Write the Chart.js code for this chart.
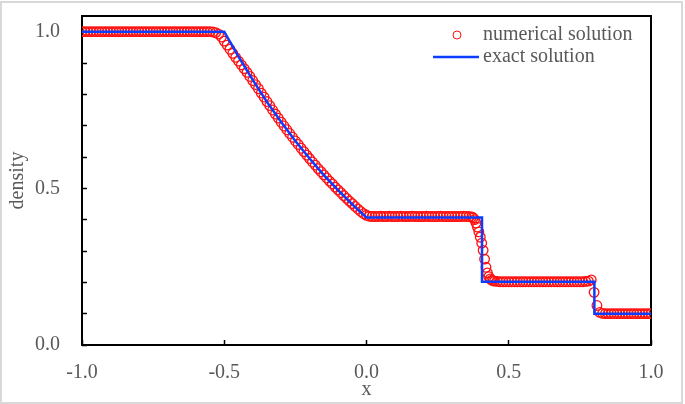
<!DOCTYPE html>
<html>
<head>
<meta charset="utf-8">
<script src="https://cdn.jsdelivr.net/npm/chart.js"></script>
<style>
  html, body { margin: 0; padding: 0; background: #fff; }
  #chart-wrapper { width: 685px; height: 404px; }
</style>
</head>
<body>
<div id="chart-wrapper">
    <canvas id="my-chart" width="685" height="404"></canvas>
</div>

<script>
// numerical solution (circles)
const numX = [
  -1.00,-0.99,-0.98,-0.97,-0.96,-0.95,-0.94,-0.93,-0.92,-0.91,
  -0.90,-0.89,-0.88,-0.87,-0.86,-0.85,-0.84,-0.83,-0.82,-0.81,
  -0.80,-0.79,-0.78,-0.77,-0.76,-0.75,-0.74,-0.73,-0.72,-0.71,
  -0.70,-0.69,-0.68,-0.67,-0.66,-0.65,-0.64,-0.63,-0.62,-0.61,
  -0.60,-0.59,-0.58,-0.57,-0.56,-0.55,-0.54,-0.53,-0.52,-0.51,
  -0.50,-0.49,-0.48,-0.47,-0.46,-0.45,-0.44,-0.43,-0.42,-0.41,
  -0.40,-0.39,-0.38,-0.37,-0.36,-0.35,-0.34,-0.33,-0.32,-0.31,
  -0.30,-0.29,-0.28,-0.27,-0.26,-0.25,-0.24,-0.23,-0.22,-0.21,
  -0.20,-0.19,-0.18,-0.17,-0.16,-0.15,-0.14,-0.13,-0.12,-0.11,
  -0.10,-0.09,-0.08,-0.07,-0.06,-0.05,-0.04,-0.03,-0.02,-0.01,
  0.00,0.01,0.02,0.03,0.04,0.05,0.06,0.07,0.08,0.09,
  0.10,0.11,0.12,0.13,0.14,0.15,0.16,0.17,0.18,0.19,
  0.20,0.21,0.22,0.23,0.24,0.25,0.26,0.27,0.28,0.29,
  0.30,0.31,0.32,0.33,0.34,0.35,0.36,0.37,
  0.375,0.38,0.385,0.39,0.395,0.40,0.405,0.41,
  0.415,0.42,0.425,0.43,0.435,0.44,0.445,0.45,
  0.46,0.47,0.48,0.49,0.50,0.51,0.52,0.53,0.54,0.55,
  0.56,0.57,0.58,0.59,0.60,0.61,0.62,0.63,0.64,0.65,
  0.66,0.67,0.68,0.69,0.70,0.71,0.72,0.73,0.74,0.75,
  0.76,0.77,0.78,0.79,0.80,0.81,0.82,0.83,0.84,0.85,
  0.86,0.87,0.88,0.89,0.90,0.91,0.92,0.93,0.94,0.95,
  0.96,0.97,0.98,0.99,1.00
];
const numY = [
  1.0,1.0,1.0,1.0,1.0,1.0,1.0,1.0,1.0,1.0,
  1.0,1.0,1.0,1.0,1.0,1.0,1.0,1.0,1.0,1.0,
  1.0,1.0,1.0,1.0,1.0,1.0,1.0,1.0,1.0,1.0,
  1.0,1.0,1.0,1.0,1.0,1.0,1.0,1.0,1.0,1.0,
  1.0,1.0,1.0,1.0,1.0,1.0,0.999,0.997,0.992,0.983,
  0.970,0.957,0.944,0.931,0.918,0.906,0.894,0.882,0.870,0.857,
  0.844,0.831,0.818,0.804,0.791,0.777,0.764,0.750,0.737,0.724,
  0.711,0.699,0.687,0.675,0.663,0.651,0.640,0.628,0.617,0.606,
  0.595,0.584,0.574,0.563,0.553,0.543,0.533,0.523,0.514,0.504,
  0.495,0.486,0.477,0.468,0.459,0.451,0.442,0.434,0.426,0.419,
  0.414,0.411,0.410,0.410,0.410,0.411,0.410,0.410,0.411,0.410,
  0.410,0.410,0.411,0.410,0.410,0.410,0.411,0.410,0.410,0.410,
  0.410,0.411,0.410,0.410,0.410,0.410,0.411,0.410,0.410,0.410,
  0.410,0.410,0.410,0.410,0.411,0.410,0.410,0.409,
  0.406,0.400,0.389,0.376,0.361,0.344,0.325,0.302,
  0.274,0.248,0.230,0.218,0.211,0.207,0.205,0.204,
  0.203,0.202,0.202,0.202,0.202,0.202,0.202,0.202,0.202,0.202,
  0.202,0.202,0.202,0.202,0.202,0.202,0.202,0.202,0.202,0.202,
  0.202,0.202,0.202,0.202,0.202,0.202,0.202,0.202,0.202,0.202,
  0.202,0.203,0.204,0.208,0.168,0.126,0.104,0.101,0.100,0.100,
  0.100,0.100,0.100,0.100,0.100,0.100,0.100,0.100,0.100,0.100,
  0.100,0.100,0.100,0.100,0.100
];

// exact solution (line)
const exactX = [-1.0,-0.5,-0.45,-0.4,-0.35,-0.3,-0.25,-0.2,-0.15,-0.1,-0.05,0.0,0.406,0.406,0.801,0.801,1.0];
const exactY = [1.0,1.0,0.920,0.846,0.776,0.712,0.651,0.595,0.542,0.494,0.449,0.407,0.407,0.202,0.202,0.100,0.100];

const xTicks = [-1.0,-0.5,0.0,0.5,1.0];
const legendNames = ['numerical solution','exact solution'];

const textColor = '#595959';
const fontFamily = '"Liberation Serif", "Times New Roman", serif';
const fontSize = 20;

function toPoints(xs, ys){
    var pts = [];
    for (var i = 0; i < xs.length; i++) pts.push({x: xs[i], y: ys[i]});
    return pts;
}

// white background + light grey outer frame
const framePlugin = {
    id: 'frame',
    beforeDraw(chart){
        const c = chart.ctx;
        c.save();
        c.fillStyle = '#fff';
        c.fillRect(0, 0, chart.width, chart.height);
        c.strokeStyle = '#d9d9d9';
        c.lineWidth = 2;
        c.strokeRect(1, 2, chart.width - 4, chart.height - 3);
        c.restore();
    },
    beforeDatasetsDraw(chart){
        const a = chart.chartArea;
        const c = chart.ctx;
        c.save();
        c.strokeStyle = '#000';
        c.lineWidth = 2;
        c.strokeRect(a.left, a.top, a.right - a.left, a.bottom - a.top);
        c.restore();
    }
};

// legend in the top right corner of the plot
const legendPlugin = {
    id: 'myLegend',
    afterDraw(chart){
        const a = chart.chartArea;
        const c = chart.ctx;
        const ds = chart.data.datasets;
        const tx = a.right - 168;
        const y1 = a.top + 19, y2 = a.top + 41;
        c.save();
        c.strokeStyle = ds[0].borderColor;
        c.lineWidth = 1;
        c.beginPath();
        c.arc(tx - 26, y1, 4, 0, Math.PI * 2);
        c.stroke();
        c.strokeStyle = ds[1].borderColor;
        c.lineWidth = 2.5;
        c.beginPath();
        c.moveTo(tx - 50, y2);
        c.lineTo(tx - 4, y2);
        c.stroke();
        c.fillStyle = textColor;
        c.font = fontSize + 'px ' + fontFamily;
        c.textBaseline = 'middle';
        c.textAlign = 'left';
        c.fillText(ds[0].label, tx, y1);
        c.fillText(ds[1].label, tx, y2);
        c.restore();
    }
};

const ctx = document.getElementById('my-chart');
const chart = new Chart(ctx, {
    type: 'scatter',
    data: {
        datasets: [{
            label: legendNames[0],
            data: toPoints(numX, numY),
            pointStyle: 'circle',
            pointRadius: 4.8,
            pointBorderWidth: 1.3,
            borderColor: '#ff1010',
            backgroundColor: 'rgba(0,0,0,0)',
            showLine: false,
            order: 1
        }, {
            label: legendNames[1],
            data: toPoints(exactX, exactY),
            showLine: true,
            pointRadius: 0,
            borderColor: '#0b3cff',
            borderWidth: 2.5,
            fill: false,
            order: 0
        }]
    },
    options: {
        responsive: false,
        animation: false,
        layout: { padding: { top: 16, right: 34, left: 0, bottom: 0 } },
        plugins: { legend: { display: false }, tooltip: { enabled: false } },
        scales: {
            x: {
                type: 'linear',
                min: -1, max: 1,
                afterFit(s){ s.height = 59; s.paddingLeft = 0; s.paddingRight = 0; },
                afterBuildTicks(s){ s.ticks = xTicks.map(v => ({value: v})); },
                ticks: {
                    autoSkip: false,
                    padding: 21,
                    color: textColor,
                    font: { family: fontFamily, size: fontSize },
                    callback: v => v.toFixed(1)
                },
                grid: { drawOnChartArea: false, drawTicks: true, tickLength: -5, tickColor: '#000', tickWidth: 1.5 },
                border: { display: false },
                title: { display: true, text: 'x', color: textColor, font: { family: fontFamily, size: fontSize }, padding: { top: 0, bottom: 2 } }
            },
            y: {
                type: 'linear',
                min: 0, max: 1.05,
                afterFit(s){ s.width = 82; s.paddingTop = 0; s.paddingBottom = 0; },
                ticks: {
                    stepSize: 0.1,
                    autoSkip: false,
                    includeBounds: false,
                    padding: 27,
                    color: textColor,
                    font: { family: fontFamily, size: fontSize },
                    callback: function(v){
                        return Math.abs(v * 2 - Math.round(v * 2)) < 1e-6 ? v.toFixed(1) : '';
                    }
                },
                grid: { drawOnChartArea: false, drawTicks: true, tickLength: -5, tickColor: '#000', tickWidth: 1.5 },
                border: { display: false },
                title: { display: true, text: 'density', color: textColor, font: { family: fontFamily, size: fontSize }, padding: { top: 6, bottom: 0 } }
            }
        }
    },
    plugins: [framePlugin, legendPlugin]
});
</script>
</body>
</html>
